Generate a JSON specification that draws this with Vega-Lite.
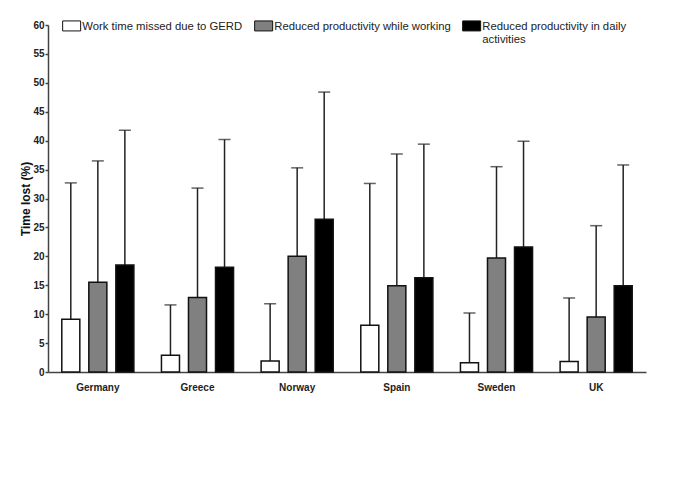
{
  "$schema": "https://vega.github.io/schema/vega-lite/v6.json",
  "autosize": "none",
  "width": 598,
  "height": 347,
  "padding": {"left": 48, "top": 25, "right": 39, "bottom": 109},
  "background": "white",
  "config": {
    "view": {"stroke": null},
    "font": "Liberation Sans",
    "axisY": {
      "tickCount": 20, "labelOverlap": false, "grid": false,
      "titleFont": "Liberation Sans", "titleFontSize": 12, "titleFontWeight": "bold",
      "titleColor": "#111", "titlePadding": 0,
      "labelFont": "Liberation Sans", "labelFontWeight": "bold", "labelFontSize": 10, "labelColor": "#222",
      "tickSize": 3, "tickColor": "#444", "tickWidth": 1.5, "labelPadding": 1,
      "domainColor": "#444", "domainWidth": 1.5
    }
  },
  "data": {
    "values": [
      {"country": "Germany", "measure": "Work time missed due to GERD", "value": 9.1, "upper": 32.7},
      {"country": "Germany", "measure": "Reduced productivity while working", "value": 15.5, "upper": 36.5},
      {"country": "Germany", "measure": "Reduced productivity in daily activities", "value": 18.5, "upper": 41.8},
      {"country": "Greece", "measure": "Work time missed due to GERD", "value": 2.9, "upper": 11.6},
      {"country": "Greece", "measure": "Reduced productivity while working", "value": 12.9, "upper": 31.8},
      {"country": "Greece", "measure": "Reduced productivity in daily activities", "value": 18.1, "upper": 40.2},
      {"country": "Norway", "measure": "Work time missed due to GERD", "value": 1.9, "upper": 11.8},
      {"country": "Norway", "measure": "Reduced productivity while working", "value": 20.0, "upper": 35.3},
      {"country": "Norway", "measure": "Reduced productivity in daily activities", "value": 26.4, "upper": 48.4},
      {"country": "Spain", "measure": "Work time missed due to GERD", "value": 8.1, "upper": 32.6},
      {"country": "Spain", "measure": "Reduced productivity while working", "value": 14.9, "upper": 37.7},
      {"country": "Spain", "measure": "Reduced productivity in daily activities", "value": 16.3, "upper": 39.4},
      {"country": "Sweden", "measure": "Work time missed due to GERD", "value": 1.6, "upper": 10.2},
      {"country": "Sweden", "measure": "Reduced productivity while working", "value": 19.7, "upper": 35.5},
      {"country": "Sweden", "measure": "Reduced productivity in daily activities", "value": 21.6, "upper": 39.9},
      {"country": "UK", "measure": "Work time missed due to GERD", "value": 1.8, "upper": 12.8},
      {"country": "UK", "measure": "Reduced productivity while working", "value": 9.5, "upper": 25.3},
      {"country": "UK", "measure": "Reduced productivity in daily activities", "value": 14.9, "upper": 35.8}
    ]
  },
  "encoding": {
    "x": {
      "field": "country", "type": "nominal", "sort": null,
      "scale": {"paddingInner": 0, "paddingOuter": 0},
      "axis": {
        "title": null, "labelAngle": 0, "ticks": false,
        "labelFont": "Liberation Sans", "labelFontWeight": "bold", "labelFontSize": 10,
        "labelColor": "#222", "labelPadding": 10,
        "domainColor": "#444", "domainWidth": 1.5
      }
    },
    "xOffset": {
      "field": "measure", "type": "nominal",
      "sort": ["Work time missed due to GERD", "Reduced productivity while working", "Reduced productivity in daily activities"],
      "scale": {"paddingInner": 0.333, "paddingOuter": 0.51}
    }
  },
  "layer": [
    {
      "mark": {"type": "rule", "color": "#222", "strokeWidth": 1.5},
      "encoding": {
        "y": {
          "field": "value", "type": "quantitative",
          "scale": {"domain": [0, 60], "nice": false},
          "axis": {"title": "Time lost (%)", "values": [0,5,10,15,20,25,30,35,40,45,50,55,60], "tickCount": 20, "labelOverlap": false}
        },
        "y2": {"field": "upper"}
      }
    },
    {
      "mark": {"type": "tick", "orient": "horizontal", "color": "#222", "size": 12, "thickness": 1.5},
      "encoding": {
        "y": {
          "field": "upper", "type": "quantitative",
          "axis": {"title": "Time lost (%)", "values": [0,5,10,15,20,25,30,35,40,45,50,55,60], "tickCount": 20, "labelOverlap": false}
        }
      }
    },
    {
      "mark": {"type": "bar", "stroke": "#111", "strokeWidth": 1.5},
      "encoding": {
        "y": {
          "field": "value", "type": "quantitative",
          "axis": {"title": "Time lost (%)", "values": [0,5,10,15,20,25,30,35,40,45,50,55,60], "tickCount": 20, "labelOverlap": false}
        },
        "color": {
          "field": "measure", "type": "nominal",
          "sort": ["Work time missed due to GERD", "Reduced productivity while working", "Reduced productivity in daily activities"],
          "scale": {"range": ["#ffffff", "#808080", "#000000"]},
          "legend": {
            "title": null, "orient": "none", "legendX": 18, "legendY": -5,
            "direction": "horizontal", "columns": 3, "columnPadding": 9,
            "symbolType": "M-1.8,-1L1.8,-1L1.8,1L-1.8,1Z", "symbolSize": 100,
            "symbolStrokeColor": "#111", "symbolStrokeWidth": 1,
            "labelFont": "Liberation Sans", "labelFontSize": 11.3, "labelColor": "#222",
            "labelOffset": 5, "labelLimit": 400, "labelBaseline": "alphabetic",
            "labelExpr": "datum.label == 'Reduced productivity in daily activities' ? ['Reduced productivity in daily', 'activities'] : [datum.label, '']",
            "encode": {"labels": {"update": {"dy": {"value": 4.5}, "lineHeight": {"value": 13}}}}
          }
        }
      }
    }
  ]
}
